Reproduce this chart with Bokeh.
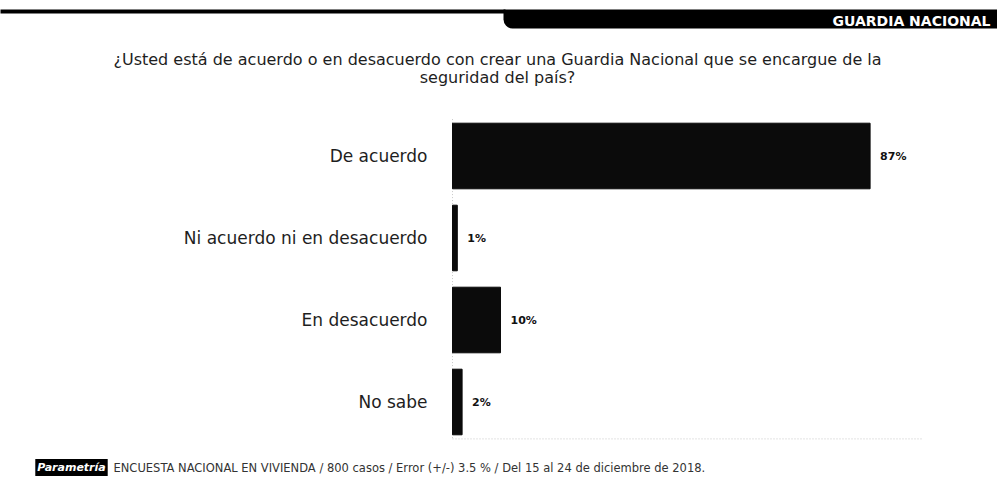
from bokeh.plotting import figure
from bokeh.models import Range1d, Label, BoxAnnotation, ColumnDataSource
from bokeh.core.properties import value
from bokeh.embed import file_html
from bokeh.resources import INLINE

categories = ["De acuerdo", "Ni acuerdo ni en desacuerdo", "En desacuerdo", "No sabe"]
values = [87, 1, 10, 2]
value_labels = ["87%", "1%", "10%", "2%"]

title_lines = ["¿Usted está de acuerdo o en desacuerdo con crear una Guardia Nacional que se encargue de la",
               "seguridad del país?"]
header_text = "GUARDIA NACIONAL"
footer_text = "ENCUESTA NACIONAL EN VIVIENDA / 800 casos / Error (+/-) 3.5 % / Del 15 al 24 de diciembre de 2018."
logo_text = "Parametría"
axis_max = 98

W, H = 997, 477
px_per_unit = 4.8
zero_x = 452
row_px = 82
first_row = 155.5
FONT = "DejaVu Sans"

p = figure(width=W, height=H, output_backend="svg", toolbar_location=None,
           x_axis_location=None, y_axis_location=None,
           min_border=0, min_border_left=0, min_border_right=0,
           min_border_top=0, min_border_bottom=0)
p.x_range = Range1d(-zero_x / px_per_unit, (W - zero_x) / px_per_unit)
p.y_range = Range1d((H - first_row) / row_px, -first_row / row_px)
p.xgrid.visible = False
p.ygrid.visible = False
p.outline_line_color = None
p.background_fill_color = "white"
p.border_fill_color = "white"

idx = list(range(len(categories)))
src = ColumnDataSource(dict(y=idx, v=values, cat=categories, lab=value_labels, zero=[0] * len(values)))

# faint dotted axis lines (as in the scanned original)
lo, hi = idx[0] - 0.45, idx[-1] + 0.45
p.segment(x0=[0, 0], y0=[lo, hi], x1=[0, axis_max], y1=[hi, hi],
          line_color="#c8c8c8", line_width=1, line_dash="1 2")

p.hbar(y="y", left="zero", right="v", height=0.8, source=src,
       fill_color="#0b0b0b", line_color="#0b0b0b")

p.text(x="zero", y="y", text="cat", source=src, text_align="right", text_baseline="middle",
       x_offset=-25, text_font=value(FONT), text_font_size="17px", text_color="#1e1e1e")
p.text(x="v", y="y", text="lab", source=src, text_align="left", text_baseline="middle",
       x_offset=10, text_font=value(FONT), text_font_size="11px",
       text_font_style="bold", text_color="#111111")

# header (screen units: y measured from the bottom)
p.add_layout(BoxAnnotation(left=-5, right=505, top=H - 9, bottom=H - 13,
                           left_units="screen", right_units="screen",
                           top_units="screen", bottom_units="screen",
                           fill_color="black", fill_alpha=1, line_color=None))
p.add_layout(BoxAnnotation(left=503, right=W + 10, top=H - 9, bottom=H - 28,
                           left_units="screen", right_units="screen",
                           top_units="screen", bottom_units="screen",
                           fill_color="black", fill_alpha=1, line_color=None,
                           border_radius=(0, 0, 0, 9)))
p.add_layout(Label(x=990, y=H - 20, x_units="screen", y_units="screen", text=header_text,
                   text_align="right", text_baseline="middle", text_color="white",
                   text_font=FONT, text_font_style="bold", text_font_size="14px"))

# title
p.add_layout(Label(x=497, y=H - 59, x_units="screen", y_units="screen", text=title_lines[0],
                   text_align="center", text_baseline="middle", text_color="#1e1e1e",
                   text_font=FONT, text_font_size="16px"))
p.add_layout(Label(x=497, y=H - 77, x_units="screen", y_units="screen", text=title_lines[1],
                   text_align="center", text_baseline="middle", text_color="#1e1e1e",
                   text_font=FONT, text_font_size="16px"))

# footer
p.add_layout(Label(x=71, y=H - 467, x_units="screen", y_units="screen", text=logo_text,
                   text_align="center", text_baseline="middle", text_color="white",
                   text_font=FONT, text_font_style="bold italic", text_font_size="11px",
                   background_fill_color="black", padding=2))
p.add_layout(Label(x=113, y=H - 467, x_units="screen", y_units="screen", text=footer_text,
                   text_align="left", text_baseline="middle", text_color="#333333",
                   text_font=FONT, text_font_size="11.5px"))

open("out.html", "w").write(file_html(p, INLINE))
